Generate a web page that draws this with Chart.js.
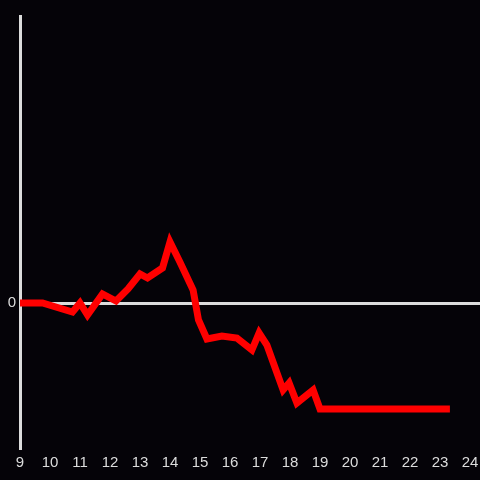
<!DOCTYPE html>
<html>
<head>
<meta charset="utf-8">
<script src="https://cdn.jsdelivr.net/npm/chart.js@4"></script>
<style>
  html, body { margin: 0; padding: 0; background: #050308; }
  #wrap { width: 480px; height: 480px; }
</style>
</head>
<body>
<div id="wrap"><canvas id="chart" width="480" height="480"></canvas></div>
<script>
// hour of day and value
const hours = [9, 9.75, 10.75, 11, 11.25, 11.75, 12.2, 12.6, 13, 13.25, 13.75, 14, 14.33, 14.77, 14.95, 15.23, 15.73, 16.23, 16.73, 16.97, 17.23, 17.77, 17.97, 18.23, 18.77, 19, 23.33];
const values = [0, 0, -9, 0, -12, 9, 2, 14, 29, 25, 35, 61, 41, 13, -17, -36, -33, -35, -47, -30, -42, -87, -80, -100, -87, -106, -106];
const xTicks = [9, 10, 11, 12, 13, 14, 15, 16, 17, 18, 19, 20, 21, 22, 23, 24];
const yTicks = [0];

const byId = (id) => document.getElementById(id);
const axisColor = "#dcdcdc";
const textFont = { family: "Liberation Sans", size: 15 };

new Chart(byId("chart"), {
  type: "line",
  data: {
    datasets: [{
      data: hours.map((h, i) => ({ x: h, y: values[i] })),
      borderColor: "#ff0000",
      borderWidth: 7,
      pointRadius: 0,
      tension: 0,
      fill: false,
    }],
  },
  options: {
    responsive: false,
    animation: false,
    layout: { padding: { top: 16, right: 0, left: 0, bottom: 0 } },
    plugins: { legend: { display: false }, tooltip: { enabled: false } },
    scales: {
      x: {
        type: "linear",
        min: 9,
        max: 9 + 460 / 30,
        afterBuildTicks: (s) => { s.ticks = xTicks.map((v) => ({ value: v })); },
        afterFit: (s) => { s.height = 32; s.paddingLeft = 0; s.paddingRight = 0; },
        grid: { display: false, drawTicks: false },
        border: { display: false },
        ticks: { color: axisColor, font: textFont, padding: 6, maxRotation: 0, autoSkip: false },
      },
      y: {
        min: -145,
        max: 287,
        afterBuildTicks: (s) => { s.ticks = yTicks.map((v) => ({ value: v })); },
        afterFit: (s) => { s.width = 20; s.paddingTop = 0; s.paddingBottom = 0; },
        grid: {
          drawTicks: false,
          color: (ctx) => (ctx.tick && ctx.tick.value === 0 ? axisColor : "transparent"),
          lineWidth: 3,
        },
        border: { display: true, color: axisColor, width: 3 },
        ticks: { color: axisColor, font: textFont, padding: 4 },
      },
    },
  },
});
</script>
</body>
</html>
